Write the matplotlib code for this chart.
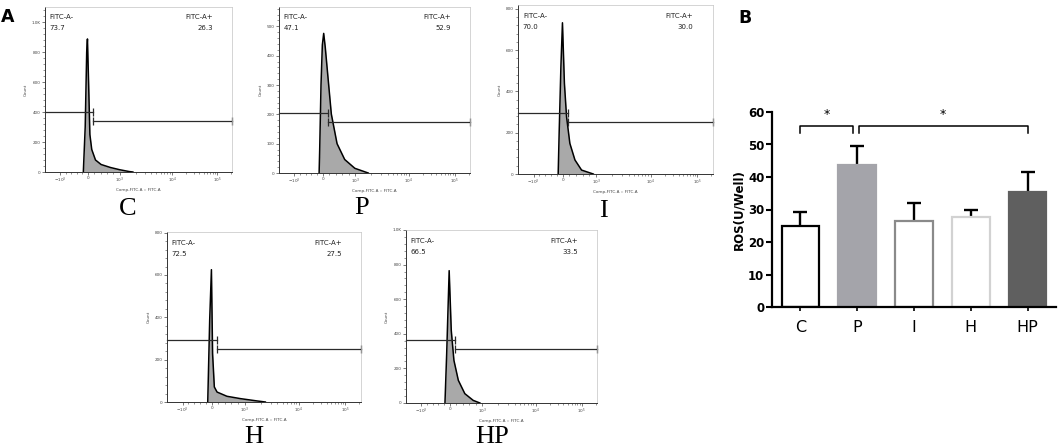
import matplotlib
matplotlib.use('Agg')
import matplotlib.pyplot as plt
import numpy as np

W, H = 1059, 447
fig = plt.figure(figsize=(W / 100, H / 100), dpi=100)


def axpx(l, t, r, b):
    return fig.add_axes([l / W, 1 - b / H, (r - l) / W, (b - t) / H])


# ---------------- Panel A data ----------------
samples = ['C', 'P', 'I', 'H', 'HP']
neg_pct = ['73.7', '47.1', '70.0', '72.5', '66.5']
pos_pct = ['26.3', '52.9', '30.0', '27.5', '33.5']

# histogram outlines (x on display scale 0..100, y = count)
hist_C_x = [20.5, 21.5, 22.3, 22.7, 23.3, 24.0, 25.0, 27.0, 30.0, 35.0, 40.0, 45.0, 47.0]
hist_C_y = [0, 300, 800, 887, 600, 250, 150, 80, 50, 30, 15, 3, 0]
hist_P_x = [21.0, 21.3, 22.0, 22.7, 23.4, 24.2, 25.2, 27.4, 30.4, 34.4, 39.7, 46.7]
hist_P_y = [0, 78, 302, 437, 476, 430, 358, 201, 100, 46, 16, 0]
hist_I_x = [20.6, 21.1, 22.0, 22.8, 23.8, 24.9, 26.6, 29.2, 32.6, 38.6]
hist_I_y = [0, 197, 519, 732, 439, 277, 148, 68, 19, 0]
hist_H_x = [21.0, 22.0, 22.9, 23.5, 24.4, 25.8, 30.9, 37.8, 46.4, 50.7]
hist_H_y = [0, 386, 625, 228, 71, 47, 27, 16, 5, 0]
hist_HP_x = [20.4, 21.3, 22.6, 23.7, 25.1, 27.4, 30.8, 35.2, 38.7]
hist_HP_y = [0, 285, 765, 419, 246, 131, 54, 15, 0]

hist_x = [hist_C_x, hist_P_x, hist_I_x, hist_H_x, hist_HP_x]
hist_y = [hist_C_y, hist_P_y, hist_I_y, hist_H_y, hist_HP_y]

count_max = [1100, 566, 818, 803, 996]
count_ticks = [[0, 200, 400, 600, 800, 1000],
               [0, 100, 200, 300, 400, 500],
               [0, 200, 400, 600, 800],
               [0, 200, 400, 600, 800],
               [0, 200, 400, 600, 800, 1000]]
gate_neg_y = [398, 203, 294, 294, 362]
gate_pos_y = [338, 173, 252, 252, 313]
gate_split = 25.8

fitc_tick_pos = [8, 23, 40, 68, 92]
fitc_tick_lab = ['$-10^3$', '0', '$10^3$', '$10^4$', '$10^5$']

# pixel boxes (left, top, right, bottom)
boxes = [(45, 7, 232, 172), (279, 7, 470, 173), (518, 5, 713, 174),
         (167, 232, 361, 402), (406, 230, 597, 403)]
label_pos = [(128, 209), (362, 208), (603, 211), (254, 437), (492, 437)]

# minor tick positions on the biexponential-like axis
minor = []
for a, b in [(8, 23), (23, 40)]:
    minor += list(np.linspace(a, b, 6)[1:-1])
for a, b in [(40, 68), (68, 92), (92, 116)]:
    minor += [a + (b - a) * np.log10(k) for k in range(2, 10)]
minor = [m for m in minor if m < 100]

for i, s in enumerate(samples):
    l, t, r, b = boxes[i]
    ax = axpx(l, t, r, b)
    ax.fill_between(hist_x[i], hist_y[i], color='#a9a9a9', lw=0)
    ax.plot(hist_x[i], hist_y[i], color='black', lw=1.1)
    ax.set_xlim(0, 100)
    ax.set_ylim(0, count_max[i])
    # gates
    gc = '#2a2a2a'
    ax.plot([0, gate_split], [gate_neg_y[i]] * 2, color=gc, lw=0.9, clip_on=False)
    ax.plot([gate_split], [gate_neg_y[i]], marker='|', ms=6, mew=0.9, color=gc)
    ax.plot([gate_split, 100], [gate_pos_y[i]] * 2, color=gc, lw=0.9, clip_on=False)
    ax.plot([gate_split, 100], [gate_pos_y[i]] * 2, ls='none', marker='|', ms=6,
            mew=0.9, color=gc, clip_on=False)
    # texts
    ax.text(0.025, 0.937, 'FITC-A-', transform=ax.transAxes, fontsize=5,
            ha='left', va='center', color='#222')
    ax.text(0.025, 0.872, neg_pct[i], transform=ax.transAxes, fontsize=5,
            ha='left', va='center', color='#222')
    ax.text(0.9, 0.937, 'FITC-A+', transform=ax.transAxes, fontsize=5,
            ha='right', va='center', color='#222')
    ax.text(0.9, 0.872, pos_pct[i], transform=ax.transAxes, fontsize=5,
            ha='right', va='center', color='#222')
    # axes styling
    ax.set_xticks(fitc_tick_pos)
    ax.set_xticklabels(fitc_tick_lab)
    ax.set_xticks(minor, minor=True)
    ax.set_yticks(count_ticks[i])
    ax.set_yticklabels(['1.0K' if v == 1000 else str(v) for v in count_ticks[i]])
    ax.set_yticks(np.arange(0, count_max[i], count_ticks[i][1] / 5), minor=True)
    ax.tick_params(which='major', length=2, width=0.5, labelsize=3, pad=1,
                   colors='#444')
    ax.tick_params(which='minor', length=1.2, width=0.4, colors='#444')
    for sp in ['left', 'bottom']:
        ax.spines[sp].set_color('#333')
        ax.spines[sp].set_linewidth(0.7)
    for sp in ['top', 'right']:
        ax.spines[sp].set_color('#c4c4c4')
        ax.spines[sp].set_linewidth(0.5)
    ax.set_xlabel('Comp-FITC-A :: FITC-A', fontsize=3, labelpad=1.5, color='#444')
    ax.set_ylabel('Count', fontsize=3, labelpad=3, color='#444')
    lx, ly = label_pos[i]
    fig.text(lx / W, 1 - ly / H, s, fontsize=19, family='Liberation Serif',
             ha='center', va='center')

fig.text(8 / W, 1 - 17 / H, 'A', fontsize=12.5, fontweight='bold',
         ha='center', va='center')
fig.text(745 / W, 1 - 18 / H, 'B', fontsize=12.5, fontweight='bold',
         ha='center', va='center')

# ---------------- Panel B data ----------------
groups = ['C', 'P', 'I', 'H', 'HP']
ros_mean = [25.0, 43.8, 26.5, 27.6, 35.4]
ros_err = [4.2, 5.7, 5.4, 2.2, 6.0]
sig_pairs = [(0, 1), (1, 4)]
sig_marks = ['*', '*']

bar_face = ['white', '#a4a4aa', 'white', 'white', '#5f5f5f']
bar_edge = ['black', '#a4a4aa', '#8a8a8a', '#d2d2d2', '#5f5f5f']

axb = axpx(772, 112, 1056, 307)
xpos = np.arange(len(groups))
mean = np.array(ros_mean)
err = np.array(ros_err)
axb.errorbar(xpos, mean, yerr=[np.zeros_like(err), err], fmt='none',
             ecolor='black', elinewidth=1.7, capsize=0, zorder=1)
axb.bar(xpos, mean, width=0.66, color=bar_face, edgecolor=bar_edge,
        linewidth=1.6, zorder=2)
axb.plot(xpos, mean + err, ls='none', marker='_', ms=10, mew=1.7,
         color='black', zorder=3)

axb.set_xlim(-0.5, 4.5)
axb.set_ylim(0, 60)
axb.set_yticks(range(0, 61, 10))
axb.set_xticks(xpos)
axb.set_xticklabels(groups, fontsize=11.5)
for lab in axb.get_yticklabels():
    lab.set_fontweight('bold')
    lab.set_fontsize(8.5)
axb.tick_params(axis='y', length=4, width=1.5, pad=1.5)
axb.tick_params(axis='x', length=3, width=1.2, pad=6)
axb.spines['top'].set_visible(False)
axb.spines['right'].set_visible(False)
axb.spines['left'].set_linewidth(1.6)
axb.spines['bottom'].set_linewidth(1.6)
axb.set_ylabel('ROS(U/Well)', fontsize=8.5, fontweight='bold', labelpad=2)

shrink = [(0.0, 0.08), (0.03, 0.0)]
for (a, b), mk, (sa, sb) in zip(sig_pairs, sig_marks, shrink):
    x0, x1 = a + sa, b - sb
    yb, yl = 55.7, 53.4
    axb.plot([x0, x0, x1, x1], [yl, yb, yb, yl], color='black', lw=1.1,
             clip_on=False)
    axb.text((x0 + x1) / 2, 59.2, mk, fontsize=9, ha='center', va='center')

fig.savefig('out.png', dpi=100)
